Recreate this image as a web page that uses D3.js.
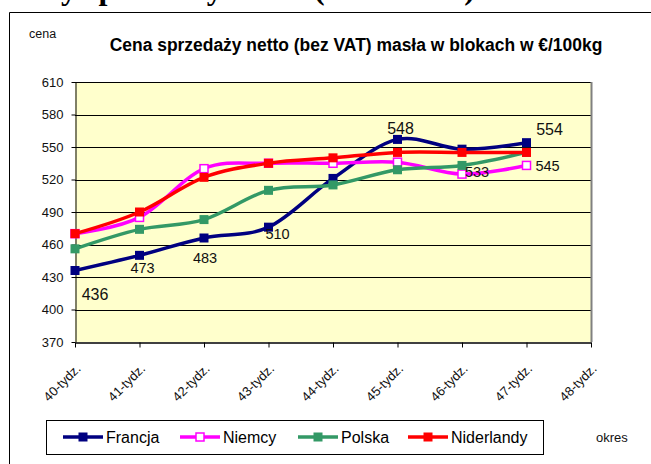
<!DOCTYPE html>
<html><head><meta charset="utf-8">
<script src="https://cdn.jsdelivr.net/npm/d3@7"></script>
<style>
html,body{margin:0;padding:0;background:#fff;}
svg{display:block;}
text{font-family:Arial,"Liberation Sans",sans-serif;}
</style></head>
<body><svg id="c" width="651" height="464"></svg>
<script>
// ---- data ----
const weeks = ["40-tydz.","41-tydz.","42-tydz.","43-tydz.","44-tydz.","45-tydz.","46-tydz.","47-tydz.","48-tydz."];
const seriesNames = ["Francja","Niemcy","Polska","Niderlandy"];
const francja    = [436,450,466,476,521,557,548,554];
const niemcy     = [470,485,530,535,535,536,525,533];
const polska     = [456,474,483,510,515,529,533,545];
const niderlandy = [470,490,522,535,540,545,545,545];
const yTicks = [370,400,430,460,490,520,550,580,610];
const labelTexts  = ["436","473","483","510","548","554","533","545"];
const labelSeries = [0,0,0,0,0,0,1,1];
const labelIndex  = [0,1,2,3,5,7,6,7];
const title = "Cena sprzedaży netto (bez VAT) masła w blokach w €/100kg";
const headWords = ["Ceny","sprzedaży","masła","(w blokach)"];

// ---- styling / layout ----
const colors = ["#000080","#FF00FF","#339966","#FF0000"];
const values = [francja,niemcy,polska,niderlandy];
const labelOff = [[20,29,16],[3,18,14.5],[1,25,14.5],[9,12,14.5],[3,-5,16],[23,-8,16],[15,3,14.5],[21,6,14.5]];
const headX = [6,86,222,314];

const svg = d3.select("#c");
const L=75, R=591, T=82, B=342;
const x = d3.scalePoint().domain(weeks).range([L,R]);
const y = d3.scaleLinear().domain([370,610]).range([B,T]);

// header text clipped at top (only descenders visible, as in the reference)
const head = svg.append("text").attr("y",-1)
  .style("font-family","'Liberation Serif','Times New Roman',serif")
  .style("font-weight","bold").style("font-size","32px").attr("fill","#000");
headWords.forEach((w,i)=>head.append("tspan").attr("x",headX[i]).text(w));

// outer chart border
svg.append("path").attr("d","M9.5,470 L9.5,12.5 L660,12.5").attr("fill","none").attr("stroke","#000").attr("stroke-width",1);

// plot bg
svg.append("rect").attr("x",L).attr("y",T).attr("width",R-L).attr("height",B-T).attr("fill","#FFFFCC");

// gridlines
svg.append("g").selectAll("line").data(yTicks.slice(1)).join("line")
  .attr("x1",L).attr("x2",R).attr("y1",d=>Math.round(y(d))+0.5).attr("y2",d=>Math.round(y(d))+0.5)
  .attr("stroke","#000").attr("stroke-width",1);
// right border
svg.append("line").attr("x1",R+0.5).attr("x2",R+0.5).attr("y1",T).attr("y2",B).attr("stroke","#808080").attr("stroke-width",2);

// y axis
const ya = svg.append("g").attr("transform",`translate(${L+0.5},0)`)
  .call(d3.axisLeft(y).tickValues(yTicks).tickSize(4).tickPadding(8).tickSizeOuter(0));
ya.select(".domain").attr("stroke","#000");
ya.selectAll("text").style("font-size","13px").attr("fill","#111").style("font-family","Arial,'Liberation Sans',sans-serif");

// x axis
const xa = svg.append("g").attr("transform",`translate(0,${B+0.5})`)
  .call(d3.axisBottom(x).tickSize(5).tickSizeOuter(0));
xa.select(".domain").attr("stroke","#000").attr("stroke-width",1.5);
xa.selectAll("text").style("font-size","13px").attr("fill","#111")
  .style("font-family","Arial,'Liberation Sans',sans-serif")
  .attr("text-anchor","end").attr("dy",0).attr("y",0)
  .attr("transform","translate(6,27) rotate(-45)");

// lines
const line = d3.line().x((d,i)=>x(weeks[i])).y(d=>y(d)).curve(d3.curveCardinal.tension(0));
values.forEach((vals,si)=>{
  svg.append("path").datum(vals).attr("d",line).attr("fill","none")
    .attr("stroke",colors[si]).attr("stroke-width",3.5).attr("stroke-linejoin","round");
  const g = svg.append("g");
  g.selectAll("rect").data(vals).join("rect")
    .attr("x",(d,i)=>x(weeks[i])-(si===1?4:4.5)).attr("y",d=>y(d)-(si===1?4:4.5))
    .attr("width",si===1?8:9).attr("height",si===1?8:9)
    .attr("fill",si===1?"#fff":colors[si]).attr("stroke",colors[si]).attr("stroke-width",si===1?1.5:0);
});

// data labels
svg.append("g").selectAll("text").data(labelTexts).join("text")
  .attr("x",(d,i)=>x(weeks[labelIndex[i]])+labelOff[i][0])
  .attr("y",(d,i)=>y(values[labelSeries[i]][labelIndex[i]])+labelOff[i][1])
  .attr("text-anchor","middle").style("font-size",(d,i)=>labelOff[i][2]+"px").attr("fill","#111")
  .text(d=>d);

// axis titles
svg.append("text").attr("x",29).attr("y",38).style("font-size","12.5px").attr("fill","#111").text("cena");
svg.append("text").attr("x",596).attr("y",442).style("font-size","13px").attr("fill","#111").text("okres");

// chart title
const tt = svg.append("text").attr("x",356).attr("y",51).attr("text-anchor","middle")
  .style("font-size","15px").style("font-weight","bold").attr("fill","#000").text(title);
const w = tt.node().getComputedTextLength();
tt.style("font-size",(15*493/w)+"px");

// legend
svg.append("rect").attr("x",46.5).attr("y",420.5).attr("width",497).attr("height",34)
  .attr("fill","#fff").attr("stroke","#000").attr("stroke-width",1);
const legX = [63,180,298,408];
seriesNames.forEach((n,si)=>{
  const g = svg.append("g").attr("transform",`translate(${legX[si]},437)`);
  g.append("line").attr("x1",0).attr("x2",40).attr("stroke",colors[si]).attr("stroke-width",3.5);
  g.append("rect").attr("x",si===1?-4+20:-4.5+20).attr("y",si===1?-4:-4.5)
   .attr("width",si===1?8:9).attr("height",si===1?8:9)
   .attr("fill",si===1?"#fff":colors[si]).attr("stroke",colors[si]).attr("stroke-width",si===1?1.5:0);
  g.append("text").attr("x",43).attr("y",6).style("font-size","16px").attr("fill","#000").text(n);
});
</script></body></html>
